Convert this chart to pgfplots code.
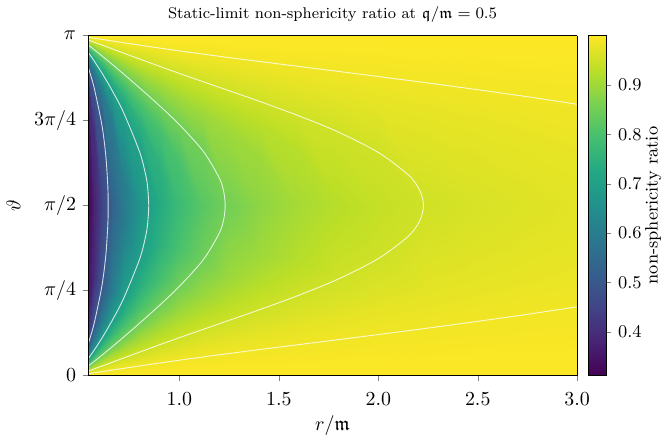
\documentclass[border=0pt]{standalone}
\usepackage{amssymb}
\usepackage{pgfplots}
\pgfplotsset{compat=1.18}
\pgfplotsset{colormap={vir}{rgb255(0cm)=(68,1,84) rgb255(1cm)=(72,36,117) rgb255(2cm)=(65,68,135)
  rgb255(3cm)=(53,95,141) rgb255(4cm)=(42,120,142) rgb255(5cm)=(33,145,140) rgb255(6cm)=(34,168,132)
  rgb255(7cm)=(68,191,112) rgb255(8cm)=(122,209,81) rgb255(9cm)=(189,223,38) rgb255(10cm)=(253,231,37)}}
\begin{document}
\begin{tikzpicture}
\begin{axis}[
  scale only axis, width=246pt, height=171pt,
  view={0}{90}, enlargelimits=false,
  xmin=0.54, xmax=3.0, ymin=0, ymax=180,
  xtick={1,1.5,2,2.5,3},
  xticklabel style={yshift=-2.5pt, /pgf/number format/.cd, fixed, fixed zerofill, precision=1},
  ytick={0,45,90,135,180},
  yticklabels={$0$,$\pi/4$,$\pi/2$,$3\pi/4$,$\pi$},
  tick align=outside, tick pos=left, major tick length=2.5pt,
  tick label style={font=\fontsize{10}{12}\selectfont},
  label style={font=\fontsize{10}{12}\selectfont},
  xlabel={$r/\mathfrak{m}$}, ylabel={$\vartheta$},
  xlabel style={yshift=1.5pt},
  title={Static-limit non-sphericity ratio at $\mathfrak{q}/\mathfrak{m}=0.5$},
  title style={font=\fontsize{7.8}{9}\selectfont, yshift=-3pt},
  colormap name=vir,
  point meta min=0.312, point meta max=1,
  colorbar,
  colorbar style={scale only axis, width=9pt, height=171pt,
    at={(parent axis.north east)}, anchor=north west, xshift=-3pt,
    ytick={0.4,0.5,0.6,0.7,0.8,0.9},
    yticklabel style={font=\fontsize{9.5}{11}\selectfont, /pgf/number format/.cd, fixed, fixed zerofill, precision=1},
    tick align=outside, ytick pos=right, yticklabel pos=right, major tick length=2.5pt,
    ylabel={non-sphericity ratio}, ylabel near ticks, ylabel shift=-5pt,
    ylabel style={font=\fontsize{9}{11}\selectfont}},
  axis on top,
]
% level-following mesh: one scanline per radius, theta in degrees
\addplot3[surf, shader=interp, mesh/ordering=y varies, point meta=explicit]
  table[x=r, y=t, z=v, meta=v] {
r t v
0.54 0 1
0.54 0.548 0.995
0.54 0.973 0.9875
0.54 1.507 0.975
0.54 2.350 0.95
0.54 3.066 0.925
0.54 3.723 0.9
0.54 4.955 0.85
0.54 6.162 0.8
0.54 7.402 0.75
0.54 8.728 0.7
0.54 11.88 0.6
0.54 16.49 0.5
0.54 25.64 0.4
0.54 37.41 0.35
0.54 90 0.312
0.54 142.59 0.35
0.54 154.36 0.4
0.54 163.51 0.5
0.54 168.12 0.6
0.54 171.272 0.7
0.54 172.598 0.75
0.54 173.838 0.8
0.54 175.045 0.85
0.54 176.277 0.9
0.54 176.934 0.925
0.54 177.65 0.95
0.54 178.493 0.975
0.54 179.027 0.9875
0.54 179.452 0.995
0.54 180 1

0.57 0 1
0.57 0.809 0.995
0.57 1.438 0.9875
0.57 2.229 0.975
0.57 3.480 0.95
0.57 4.547 0.925
0.57 5.529 0.9
0.57 7.389 0.85
0.57 9.232 0.8
0.57 11.16 0.75
0.57 13.26 0.7
0.57 18.51 0.6
0.57 27.15 0.5
0.57 53.03 0.4
0.57 90 0.378
0.57 90 0.378
0.57 90 0.378
0.57 126.97 0.4
0.57 152.85 0.5
0.57 161.49 0.6
0.57 166.74 0.7
0.57 168.84 0.75
0.57 170.768 0.8
0.57 172.611 0.85
0.57 174.471 0.9
0.57 175.453 0.925
0.57 176.52 0.95
0.57 177.771 0.975
0.57 178.562 0.9875
0.57 179.191 0.995
0.57 180 1

0.61 0 1
0.61 1.163 0.995
0.61 2.069 0.9875
0.61 3.209 0.975
0.61 5.017 0.95
0.61 6.568 0.925
0.61 8.001 0.9
0.61 10.745 0.85
0.61 13.51 0.8
0.61 16.47 0.75
0.61 19.80 0.7
0.61 28.77 0.6
0.61 47.37 0.5
0.61 90 0.451
0.61 90 0.451
0.61 90 0.451
0.61 90 0.451
0.61 90 0.451
0.61 132.63 0.5
0.61 151.23 0.6
0.61 160.20 0.7
0.61 163.53 0.75
0.61 166.49 0.8
0.61 169.255 0.85
0.61 171.999 0.9
0.61 173.432 0.925
0.61 174.983 0.95
0.61 176.791 0.975
0.61 177.931 0.9875
0.61 178.837 0.995
0.61 180 1

0.66 0 1
0.66 1.612 0.995
0.66 2.867 0.9875
0.66 4.450 0.975
0.66 6.967 0.95
0.66 9.140 0.925
0.66 11.163 0.9
0.66 15.08 0.85
0.66 19.12 0.8
0.66 23.58 0.75
0.66 28.80 0.7
0.66 44.74 0.6
0.66 90 0.5255
0.66 90 0.5255
0.66 90 0.5255
0.66 90 0.5255
0.66 90 0.5255
0.66 90 0.5255
0.66 90 0.5255
0.66 135.26 0.6
0.66 151.20 0.7
0.66 156.42 0.75
0.66 160.88 0.8
0.66 164.92 0.85
0.66 168.837 0.9
0.66 170.86 0.925
0.66 173.033 0.95
0.66 175.55 0.975
0.66 177.133 0.9875
0.66 178.388 0.995
0.66 180 1

0.72 0 1
0.72 2.150 0.995
0.72 3.826 0.9875
0.72 5.941 0.975
0.72 9.322 0.95
0.72 12.257 0.925
0.72 15.01 0.9
0.72 20.44 0.85
0.72 26.17 0.8
0.72 32.76 0.75
0.72 40.99 0.7
0.72 79.27 0.6
0.72 90 0.596
0.72 90 0.596
0.72 90 0.596
0.72 90 0.596
0.72 90 0.596
0.72 90 0.596
0.72 90 0.596
0.72 100.73 0.6
0.72 139.01 0.7
0.72 147.24 0.75
0.72 153.83 0.8
0.72 159.56 0.85
0.72 164.99 0.9
0.72 167.743 0.925
0.72 170.678 0.95
0.72 174.059 0.975
0.72 176.174 0.9875
0.72 177.85 0.995
0.72 180 1

0.80 0 1
0.80 2.860 0.995
0.80 5.093 0.9875
0.80 7.915 0.975
0.80 12.45 0.95
0.80 16.42 0.925
0.80 20.19 0.9
0.80 27.75 0.85
0.80 36.10 0.8
0.80 46.40 0.75
0.80 61.70 0.7
0.80 90 0.668
0.80 90 0.668
0.80 90 0.668
0.80 90 0.668
0.80 90 0.668
0.80 90 0.668
0.80 90 0.668
0.80 90 0.668
0.80 90 0.668
0.80 118.30 0.7
0.80 133.60 0.75
0.80 143.90 0.8
0.80 152.25 0.85
0.80 159.81 0.9
0.80 163.58 0.925
0.80 167.55 0.95
0.80 172.085 0.975
0.80 174.907 0.9875
0.80 177.14 0.995
0.80 180 1

0.90 0 1
0.90 3.728 0.995
0.90 6.640 0.9875
0.90 10.33 0.975
0.90 16.30 0.95
0.90 21.58 0.925
0.90 26.66 0.9
0.90 37.19 0.85
0.90 49.74 0.8
0.90 69.28 0.75
0.90 90 0.733
0.90 90 0.733
0.90 90 0.733
0.90 90 0.733
0.90 90 0.733
0.90 90 0.733
0.90 90 0.733
0.90 90 0.733
0.90 90 0.733
0.90 90 0.733
0.90 90 0.733
0.90 110.72 0.75
0.90 130.26 0.8
0.90 142.81 0.85
0.90 153.34 0.9
0.90 158.42 0.925
0.90 163.70 0.95
0.90 169.67 0.975
0.90 173.36 0.9875
0.90 176.272 0.995
0.90 180 1

1.00 0 1
1.00 4.567 0.995
1.00 8.138 0.9875
1.00 12.68 0.975
1.00 20.07 0.95
1.00 26.68 0.925
1.00 33.16 0.9
1.00 47.22 0.85
1.00 67.21 0.8
1.00 90 0.78
1.00 90 0.78
1.00 90 0.78
1.00 90 0.78
1.00 90 0.78
1.00 90 0.78
1.00 90 0.78
1.00 90 0.78
1.00 90 0.78
1.00 90 0.78
1.00 90 0.78
1.00 90 0.78
1.00 90 0.78
1.00 112.79 0.8
1.00 132.78 0.85
1.00 146.84 0.9
1.00 153.32 0.925
1.00 159.93 0.95
1.00 167.32 0.975
1.00 171.862 0.9875
1.00 175.433 0.995
1.00 180 1

1.12 0 1
1.12 5.537 0.995
1.12 9.874 0.9875
1.12 15.41 0.975
1.12 24.49 0.95
1.12 32.78 0.925
1.12 41.14 0.9
1.12 61.34 0.85
1.12 90 0.8216
1.12 90 0.8216
1.12 90 0.8216
1.12 90 0.8216
1.12 90 0.8216
1.12 90 0.8216
1.12 90 0.8216
1.12 90 0.8216
1.12 90 0.8216
1.12 90 0.8216
1.12 90 0.8216
1.12 90 0.8216
1.12 90 0.8216
1.12 90 0.8216
1.12 90 0.8216
1.12 118.66 0.85
1.12 138.86 0.9
1.12 147.22 0.925
1.12 155.51 0.95
1.12 164.59 0.975
1.12 170.126 0.9875
1.12 174.463 0.995
1.12 180 1

1.25 0 1
1.25 6.549 0.995
1.25 11.69 0.9875
1.25 18.28 0.975
1.25 29.24 0.95
1.25 39.51 0.925
1.25 50.44 0.9
1.25 90 0.8544
1.25 90 0.8544
1.25 90 0.8544
1.25 90 0.8544
1.25 90 0.8544
1.25 90 0.8544
1.25 90 0.8544
1.25 90 0.8544
1.25 90 0.8544
1.25 90 0.8544
1.25 90 0.8544
1.25 90 0.8544
1.25 90 0.8544
1.25 90 0.8544
1.25 90 0.8544
1.25 90 0.8544
1.25 90 0.8544
1.25 129.56 0.9
1.25 140.49 0.925
1.25 150.76 0.95
1.25 161.72 0.975
1.25 168.31 0.9875
1.25 173.451 0.995
1.25 180 1

1.40 0 1
1.40 7.677 0.995
1.40 13.72 0.9875
1.40 21.53 0.975
1.40 34.75 0.95
1.40 47.78 0.925
1.40 63.48 0.9
1.40 90 0.8819
1.40 90 0.8819
1.40 90 0.8819
1.40 90 0.8819
1.40 90 0.8819
1.40 90 0.8819
1.40 90 0.8819
1.40 90 0.8819
1.40 90 0.8819
1.40 90 0.8819
1.40 90 0.8819
1.40 90 0.8819
1.40 90 0.8819
1.40 90 0.8819
1.40 90 0.8819
1.40 90 0.8819
1.40 90 0.8819
1.40 116.52 0.9
1.40 132.22 0.925
1.40 145.25 0.95
1.40 158.47 0.975
1.40 166.28 0.9875
1.40 172.323 0.995
1.40 180 1

1.60 0 1
1.60 9.146 0.995
1.60 16.38 0.9875
1.60 25.84 0.975
1.60 42.50 0.95
1.60 61.07 0.925
1.60 90 0.9078
1.60 90 0.9078
1.60 90 0.9078
1.60 90 0.9078
1.60 90 0.9078
1.60 90 0.9078
1.60 90 0.9078
1.60 90 0.9078
1.60 90 0.9078
1.60 90 0.9078
1.60 90 0.9078
1.60 90 0.9078
1.60 90 0.9078
1.60 90 0.9078
1.60 90 0.9078
1.60 90 0.9078
1.60 90 0.9078
1.60 90 0.9078
1.60 90 0.9078
1.60 118.93 0.925
1.60 137.50 0.95
1.60 154.16 0.975
1.60 163.62 0.9875
1.60 170.854 0.995
1.60 180 1

1.80 0 1
1.80 10.58 0.995
1.80 19.02 0.9875
1.80 30.22 0.975
1.80 51.14 0.95
1.80 90 0.9258
1.80 90 0.9258
1.80 90 0.9258
1.80 90 0.9258
1.80 90 0.9258
1.80 90 0.9258
1.80 90 0.9258
1.80 90 0.9258
1.80 90 0.9258
1.80 90 0.9258
1.80 90 0.9258
1.80 90 0.9258
1.80 90 0.9258
1.80 90 0.9258
1.80 90 0.9258
1.80 90 0.9258
1.80 90 0.9258
1.80 90 0.9258
1.80 90 0.9258
1.80 90 0.9258
1.80 90 0.9258
1.80 128.86 0.95
1.80 149.78 0.975
1.80 160.98 0.9875
1.80 169.42 0.995
1.80 180 1

2.00 0 1
2.00 12.04 0.995
2.00 21.71 0.9875
2.00 34.82 0.975
2.00 61.92 0.95
2.00 90 0.939
2.00 90 0.939
2.00 90 0.939
2.00 90 0.939
2.00 90 0.939
2.00 90 0.939
2.00 90 0.939
2.00 90 0.939
2.00 90 0.939
2.00 90 0.939
2.00 90 0.939
2.00 90 0.939
2.00 90 0.939
2.00 90 0.939
2.00 90 0.939
2.00 90 0.939
2.00 90 0.939
2.00 90 0.939
2.00 90 0.939
2.00 90 0.939
2.00 90 0.939
2.00 118.08 0.95
2.00 145.18 0.975
2.00 158.29 0.9875
2.00 167.96 0.995
2.00 180 1

2.25 0 1
2.25 13.85 0.995
2.25 25.13 0.9875
2.25 40.93 0.975
2.25 90 0.9509
2.25 90 0.9509
2.25 90 0.9509
2.25 90 0.9509
2.25 90 0.9509
2.25 90 0.9509
2.25 90 0.9509
2.25 90 0.9509
2.25 90 0.9509
2.25 90 0.9509
2.25 90 0.9509
2.25 90 0.9509
2.25 90 0.9509
2.25 90 0.9509
2.25 90 0.9509
2.25 90 0.9509
2.25 90 0.9509
2.25 90 0.9509
2.25 90 0.9509
2.25 90 0.9509
2.25 90 0.9509
2.25 90 0.9509
2.25 90 0.9509
2.25 139.07 0.975
2.25 154.87 0.9875
2.25 166.15 0.995
2.25 180 1

2.50 0 1
2.50 15.71 0.995
2.50 28.69 0.9875
2.50 47.78 0.975
2.50 90 0.9596
2.50 90 0.9596
2.50 90 0.9596
2.50 90 0.9596
2.50 90 0.9596
2.50 90 0.9596
2.50 90 0.9596
2.50 90 0.9596
2.50 90 0.9596
2.50 90 0.9596
2.50 90 0.9596
2.50 90 0.9596
2.50 90 0.9596
2.50 90 0.9596
2.50 90 0.9596
2.50 90 0.9596
2.50 90 0.9596
2.50 90 0.9596
2.50 90 0.9596
2.50 90 0.9596
2.50 90 0.9596
2.50 90 0.9596
2.50 90 0.9596
2.50 132.22 0.975
2.50 151.31 0.9875
2.50 164.29 0.995
2.50 180 1

2.75 0 1
2.75 17.60 0.995
2.75 32.41 0.9875
2.75 55.76 0.975
2.75 90 0.9661
2.75 90 0.9661
2.75 90 0.9661
2.75 90 0.9661
2.75 90 0.9661
2.75 90 0.9661
2.75 90 0.9661
2.75 90 0.9661
2.75 90 0.9661
2.75 90 0.9661
2.75 90 0.9661
2.75 90 0.9661
2.75 90 0.9661
2.75 90 0.9661
2.75 90 0.9661
2.75 90 0.9661
2.75 90 0.9661
2.75 90 0.9661
2.75 90 0.9661
2.75 90 0.9661
2.75 90 0.9661
2.75 90 0.9661
2.75 90 0.9661
2.75 124.24 0.975
2.75 147.59 0.9875
2.75 162.40 0.995
2.75 180 1

3.00 0 1
3.00 19.56 0.995
3.00 36.41 0.9875
3.00 66.26 0.975
3.00 90 0.9712
3.00 90 0.9712
3.00 90 0.9712
3.00 90 0.9712
3.00 90 0.9712
3.00 90 0.9712
3.00 90 0.9712
3.00 90 0.9712
3.00 90 0.9712
3.00 90 0.9712
3.00 90 0.9712
3.00 90 0.9712
3.00 90 0.9712
3.00 90 0.9712
3.00 90 0.9712
3.00 90 0.9712
3.00 90 0.9712
3.00 90 0.9712
3.00 90 0.9712
3.00 90 0.9712
3.00 90 0.9712
3.00 90 0.9712
3.00 90 0.9712
3.00 113.74 0.975
3.00 143.59 0.9875
3.00 160.44 0.995
3.00 180 1
};
% contour lines
\addplot3[white, line width=0.45pt, opacity=0.8, smooth] coordinates {
(0.54,16.49,1) (0.57,27.15,1) (0.61,47.37,1) (0.63,63.95,1) (0.64,80.27,1) (0.6416,90,1)
(0.64,99.73,1) (0.63,116.05,1) (0.61,132.63,1) (0.57,152.85,1) (0.54,163.51,1)};
\addplot3[white, line width=0.45pt, opacity=0.8, smooth] coordinates {
(0.54,8.728,1) (0.57,13.26,1) (0.61,19.80,1) (0.66,28.80,1) (0.72,40.99,1) (0.80,61.70,1)
(0.83,73.70,1) (0.84,80.28,1) (0.8456,90,1) (0.84,99.72,1) (0.83,106.30,1) (0.80,118.30,1)
(0.72,139.01,1) (0.66,151.20,1) (0.61,160.20,1) (0.57,166.74,1) (0.54,171.272,1)};
\addplot3[white, line width=0.45pt, opacity=0.8, smooth] coordinates {
(0.54,4.955,1) (0.57,7.389,1) (0.61,10.745,1) (0.66,15.08,1) (0.72,20.44,1) (0.80,27.75,1)
(0.90,37.19,1) (1.00,47.22,1) (1.12,61.34,1) (1.20,75.30,1) (1.2225,82.6,1) (1.230,90,1)
(1.2225,97.4,1) (1.20,104.70,1) (1.12,118.66,1) (1.00,132.78,1) (0.90,142.81,1) (0.80,152.25,1)
(0.72,159.56,1) (0.66,164.92,1) (0.61,169.255,1) (0.57,172.611,1) (0.54,175.045,1)};
\addplot3[white, line width=0.45pt, opacity=0.8, smooth] coordinates {
(0.54,2.350,1) (0.57,3.480,1) (0.61,5.017,1) (0.66,6.967,1) (0.72,9.322,1) (0.80,12.45,1)
(0.90,16.30,1) (1.00,20.07,1) (1.12,24.49,1) (1.25,29.24,1) (1.40,34.75,1) (1.60,42.50,1)
(1.80,51.14,1) (2.00,61.92,1) (2.15,73.68,1) (2.208,81.84,1) (2.2274,90,1)
(2.208,98.16,1) (2.15,106.32,1) (2.00,118.08,1) (1.80,128.86,1) (1.60,137.50,1) (1.40,145.25,1)
(1.25,150.76,1) (1.12,155.51,1) (1.00,159.93,1) (0.90,163.70,1) (0.80,167.55,1) (0.72,170.678,1)
(0.66,173.033,1) (0.61,174.983,1) (0.57,176.52,1) (0.54,177.65,1)};
\addplot3[white, line width=0.45pt, opacity=0.8, smooth] coordinates {
(0.54,0.973,1) (0.57,1.438,1) (0.61,2.069,1) (0.66,2.867,1) (0.72,3.826,1) (0.80,5.093,1)
(0.90,6.640,1) (1.00,8.138,1) (1.12,9.874,1) (1.25,11.69,1) (1.40,13.72,1) (1.60,16.38,1)
(1.80,19.02,1) (2.00,21.71,1) (2.25,25.13,1) (2.50,28.69,1) (2.75,32.41,1) (3.00,36.41,1)};
\addplot3[white, line width=0.45pt, opacity=0.8, smooth] coordinates {
(0.54,179.027,1) (0.57,178.562,1) (0.61,177.931,1) (0.66,177.133,1) (0.72,176.174,1) (0.80,174.907,1)
(0.90,173.36,1) (1.00,171.862,1) (1.12,170.126,1) (1.25,168.31,1) (1.40,166.28,1) (1.60,163.62,1)
(1.80,160.98,1) (2.00,158.29,1) (2.25,154.87,1) (2.50,151.31,1) (2.75,147.59,1) (3.00,143.59,1)};
\end{axis}
\end{tikzpicture}
\end{document}
